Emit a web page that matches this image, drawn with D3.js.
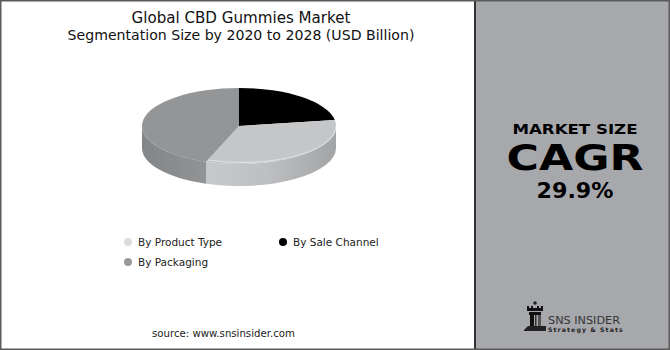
<!DOCTYPE html>
<html>
<head>
<meta charset="utf-8">
<script src="https://cdn.jsdelivr.net/npm/d3@7"></script>
<style>
  html, body { margin: 0; padding: 0; background: #fff; }
  svg { display: block; }
  text { font-family: "DejaVu Sans", "Open Sans", sans-serif; }
</style>
</head>
<body>
<svg id="chart" width="670" height="350"></svg>
<script>
// Segment shares (USD Billion split) for the 3D pie, clockwise from 12 o'clock
const segments = ["By Sale Channel", "By Product Type", "By Packaging"];
const shares = [22.5, 33.0, 44.5];

// Legend order as laid out in two columns
const legendItems = ["By Product Type", "By Sale Channel", "By Packaging"];

const titleLines = ["Global CBD Gummies Market", "Segmentation Size by 2020 to 2028 (USD Billion)"];
const panelLines = ["MARKET SIZE", "CAGR", "29.9%"];
const sourceText = "source: www.snsinsider.com";

const topColor = {
  "By Sale Channel": "#000000",
  "By Product Type": "#c5c6c8",
  "By Packaging": "#949597"
};
const legendColor = {
  "By Sale Channel": "#000000",
  "By Product Type": "#dcdcdc",
  "By Packaging": "#9a9a9a"
};

const W = 670, H = 350;
const svg = d3.select("#chart");

// Fit a text element's font size so it spans a target width
function fitWidth(sel, target) {
  const node = sel.node();
  const fs = parseFloat(sel.attr("font-size"));
  const w = node.getComputedTextLength();
  sel.attr("font-size", (fs * target / w).toFixed(2));
}

// ---------- frame and right panel ----------
svg.append("rect").attr("x", 0).attr("y", 0).attr("width", W).attr("height", H).attr("fill", "#fff");
svg.append("rect").attr("x", 475).attr("y", 0).attr("width", W - 475).attr("height", H).attr("fill", "#a7a8ac");
svg.append("line").attr("x1", 475).attr("x2", 475).attr("y1", 0).attr("y2", H)
  .attr("stroke", "#333").attr("stroke-width", 2);
svg.append("rect").attr("x", 0.75).attr("y", 0.75).attr("width", W - 1.5).attr("height", H - 1.5)
  .attr("fill", "none").attr("stroke", "#5a5a5a").attr("stroke-width", 1.5);

// ---------- title ----------
const titleY = [23, 40];
const titleW = [219, 347];
titleLines.forEach((t, i) => {
  const el = svg.append("text").attr("x", 241).attr("y", titleY[i])
    .attr("text-anchor", "middle").attr("font-size", 13).attr("fill", "#111").text(t);
  fitWidth(el, titleW[i]);
});

// ---------- 3D pie ----------
const cx = 239, cy = 126, rx = 97, ry = 38, depth = 22;
const pie = d3.pie().sort(null).value(d => d)(shares);

const defs = svg.append("defs");
const gLight = defs.append("linearGradient").attr("id", "sideLight")
  .attr("gradientUnits", "userSpaceOnUse").attr("x1", cx - 40).attr("x2", cx + rx).attr("y1", 0).attr("y2", 0);
gLight.append("stop").attr("offset", 0).attr("stop-color", "#c9cacc");
gLight.append("stop").attr("offset", 0.5).attr("stop-color", "#bebfc1");
gLight.append("stop").attr("offset", 1).attr("stop-color", "#a3a4a6");
const gDark = defs.append("linearGradient").attr("id", "sideDark")
  .attr("gradientUnits", "userSpaceOnUse").attr("x1", cx - rx).attr("x2", cx - 30).attr("y1", 0).attr("y2", 0);
gDark.append("stop").attr("offset", 0).attr("stop-color", "#848587");
gDark.append("stop").attr("offset", 1).attr("stop-color", "#939496");
const sideFill = { "By Product Type": "url(#sideLight)", "By Packaging": "url(#sideDark)", "By Sale Channel": "#000" };

// screen angle: d3.pie angle 0 = 12 o'clock clockwise
const theta = a => a - Math.PI / 2;
const pt = (t, dy = 0) => [cx + rx * Math.cos(t), cy + dy + ry * Math.sin(t)];

// Side walls: only the front half (theta in [0, PI]) is visible
pie.forEach((d, i) => {
  const seg = segments[i];
  const t0 = theta(d.startAngle), t1 = theta(d.endAngle);
  const s = Math.max(t0, 0), e = Math.min(t1, Math.PI);
  if (e <= s) return;
  const a = pt(s), b = pt(e), b2 = pt(e, depth), a2 = pt(s, depth);
  const large = (e - s) > Math.PI ? 1 : 0;
  const dPath = `M${a[0]},${a[1]} A${rx},${ry} 0 ${large} 1 ${b[0]},${b[1]} L${b2[0]},${b2[1]} A${rx},${ry} 0 ${large} 0 ${a2[0]},${a2[1]} Z`;
  svg.append("path").attr("d", dPath).attr("fill", sideFill[seg]);
});

// Top faces
pie.forEach((d, i) => {
  const seg = segments[i];
  const t0 = theta(d.startAngle), t1 = theta(d.endAngle);
  const a = pt(t0), b = pt(t1);
  const large = (t1 - t0) > Math.PI ? 1 : 0;
  svg.append("path")
    .attr("d", `M${cx},${cy} L${a[0]},${a[1]} A${rx},${ry} 0 ${large} 1 ${b[0]},${b[1]} Z`)
    .attr("fill", topColor[seg]);
});

// Soft rim highlight along the front edge of the light slice
{
  const d = pie[segments.indexOf("By Product Type")];
  const s = Math.max(theta(d.startAngle), 0.05), e = Math.min(theta(d.endAngle), Math.PI) - 0.02;
  const a = pt(s, -2), b = pt(e, -2);
  svg.append("path")
    .attr("d", `M${a[0]},${a[1]} A${rx - 3},${ry - 2} 0 0 1 ${b[0]},${b[1]}`)
    .attr("fill", "none").attr("stroke", "#e4e5e6").attr("stroke-width", 1.2).attr("opacity", 0.8);
}

// ---------- legend ----------
const legendPos = [[128, 242], [283, 242], [128, 262]];
legendItems.forEach((name, i) => {
  const [lx, ly] = legendPos[i];
  svg.append("circle").attr("cx", lx).attr("cy", ly).attr("r", 4).attr("fill", legendColor[name]);
  svg.append("text").attr("x", lx + 10).attr("y", ly + 4).attr("font-size", 10.5)
    .attr("fill", "#222").text(name);
});

// ---------- source ----------
{
  const el = svg.append("text").attr("x", 152).attr("y", 337).attr("font-size", 10.5)
    .attr("fill", "#222").text(sourceText);
  fitWidth(el, 143);
}

// ---------- right panel text ----------
const panelY = [134, 170, 198];
const panelW = [125, 137, 77];
const panelFs = [14.5, 36, 21];
panelLines.forEach((t, i) => {
  svg.append("text").attr("x", 575).attr("y", panelY[i]).attr("text-anchor", "middle")
    .attr("font-size", panelFs[i]).attr("font-weight", 900).attr("fill", "#000")
    .attr("textLength", panelW[i]).attr("lengthAdjust", "spacingAndGlyphs").text(t);
});

// ---------- logo ----------
const logo = svg.append("g");
// rook icon
logo.append("circle").attr("cx", 535).attr("cy", 303).attr("r", 1.8).attr("fill", "#222");
logo.append("path").attr("d", "M527,306 L529,306 L529,308 L531,308 L531,306 L533,306 L533,308 L537,308 L537,306 L539,306 L539,308 L541,308 L541,306 L543,306 L543,311 L527,311 Z").attr("fill", "#111");
logo.append("rect").attr("x", 529).attr("y", 312).attr("width", 12).attr("height", 3).attr("fill", "#111");
logo.append("rect").attr("x", 530).attr("y", 315).attr("width", 4).attr("height", 13).attr("fill", "#111");
logo.append("rect").attr("x", 535).attr("y", 315).attr("width", 1.5).attr("height", 13).attr("fill", "#333");
logo.append("rect").attr("x", 538).attr("y", 315).attr("width", 3).attr("height", 13).attr("fill", "#555");
logo.append("path").attr("d", "M524,330 L528,326 L546,326 L546,331 L524,331 Z").attr("fill", "#222");
// wordmark
{
  const el = logo.append("text").attr("x", 548).attr("y", 324).attr("font-size", 11)
    .attr("font-family", "Liberation Sans Narrow, DejaVu Sans Condensed, sans-serif")
    .attr("fill", "#333").text("SNS INSIDER");
  fitWidth(el, 72);
  const el2 = logo.append("text").attr("x", 548).attr("y", 332).attr("font-size", 5)
    .attr("font-weight", "bold").attr("letter-spacing", 1.1)
    .attr("fill", "#222").text("Strategy & Stats");
  fitWidth(el2, 80);
}
</script>
</body>
</html>
